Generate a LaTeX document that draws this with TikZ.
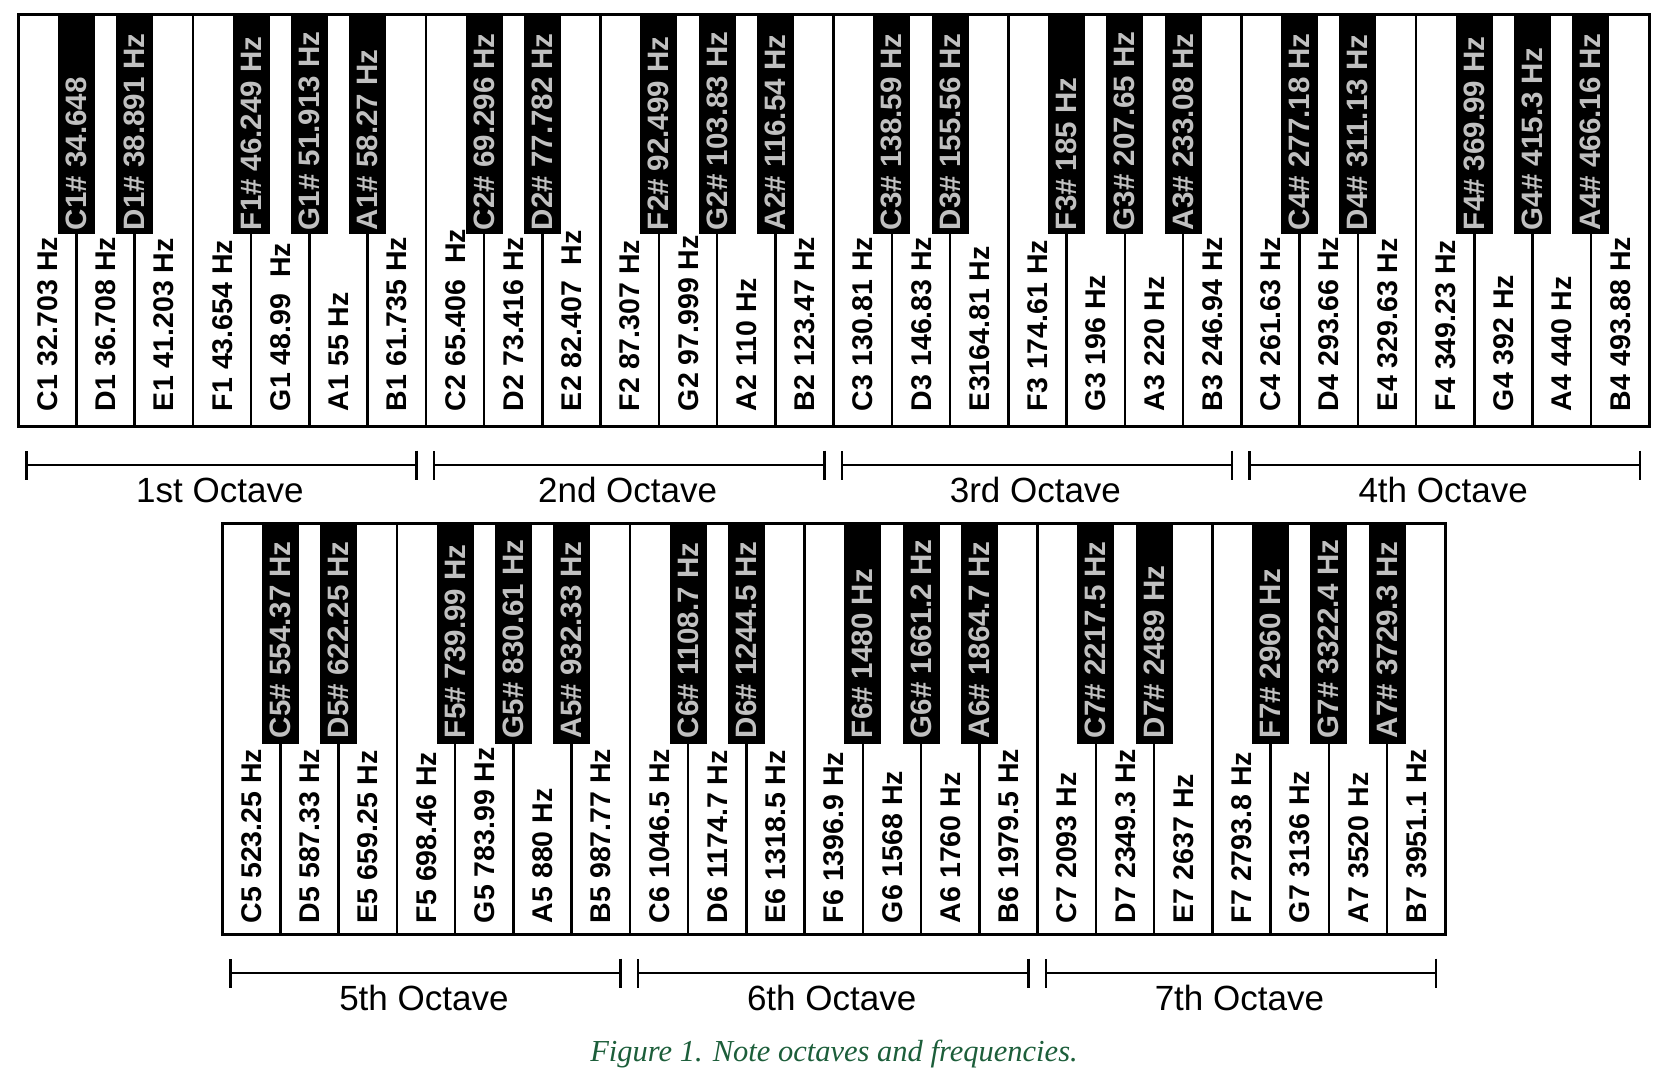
\documentclass[tikz,border=0pt]{standalone}
\usepackage{fontspec}
\setmainfont{Liberation Sans}
\newfontfamily\capfont{Liberation Serif}
\usetikzlibrary{arrows.meta}
\definecolor{capgreen}{RGB}{28,94,58}
\definecolor{sharplabel}{RGB}{192,192,192}
\tikzset{
  whitekey/.style={draw=black, fill=white, line width=2.5pt, minimum width=58.25pt, minimum height=412pt, inner sep=0pt, outer sep=0pt, anchor=north west},
  blackkey/.style={draw=black, fill=black, line width=1pt, minimum width=36pt, minimum height=219pt, inner sep=0pt, outer sep=0pt, anchor=north},
  kbframe/.style={draw=black, line width=3pt, inner sep=0pt, outer sep=0pt, anchor=north west},
  keylabel/.style={rotate=90, anchor=west, inner sep=0pt, outer sep=0pt, text height=20.4pt, text depth=0pt},
  wlabel/.style={keylabel, text=black, font=\fontsize{28.5}{30}\selectfont\bfseries},
  blabel/.style={keylabel, text=sharplabel, font=\fontsize{29.5}{31}\selectfont\bfseries},
  octbar/.style={line width=2.5pt, {Bar[width=29pt,line width=2.5pt]}-{Bar[width=29pt,line width=2.5pt]}},
  octlabel/.style={anchor=base, inner sep=0pt, font=\fontsize{35}{40}\selectfont},
}
\begin{document}
\begin{tikzpicture}[x=1pt, y=-1pt]
\useasboundingbox[fill=white] (0,0) rectangle (1676,1090);

% ---------- top keyboard ----------
\foreach \lab [count=\i from 0] in {
  C1 32.703 Hz, D1 36.708 Hz, E1 41.203 Hz, F1 43.654 Hz, G1 48.99\ \ Hz, A1 55 Hz, B1 61.735 Hz,
  C2 65.406\ \ Hz, D2 73.416 Hz, E2 82.407\ \ Hz, F2 87.307 Hz, G2 97.999 Hz, A2 110 Hz, B2 123.47 Hz,
  C3 130.81 Hz, D3 146.83 Hz, E3164.81 Hz, F3 174.61 Hz, G3 196 Hz, A3 220 Hz, B3 246.94 Hz,
  C4 261.63 Hz, D4 293.66 Hz, E4 329.63 Hz, F4 349.23 Hz, G4 392 Hz, A4 440 Hz, B4 493.88 Hz}{
  \node[whitekey] (tw\i) at ({18+58.25*\i},14) {};
  \node[wlabel] (twl\i) at ({18+58.25*(\i+0.5)},411) {\lab};
}
\foreach \b/\lab in {
  1/C1\# 34.648, 2/D1\# 38.891 Hz, 4/F1\# 46.249 Hz, 5/G1\# 51.913 Hz, 6/A1\# 58.27 Hz,
  8/C2\# 69.296 Hz, 9/D2\# 77.782 Hz, 11/F2\# 92.499 Hz, 12/G2\# 103.83 Hz, 13/A2\# 116.54 Hz,
  15/C3\# 138.59 Hz, 16/D3\# 155.56 Hz, 18/F3\# 185 Hz, 19/G3\# 207.65 Hz, 20/A3\# 233.08 Hz,
  22/C4\# 277.18 Hz, 23/D4\# 311.13 Hz, 25/F4\# 369.99 Hz, 26/G4\# 415.3 Hz, 27/A4\# 466.16 Hz}{
  \node[blackkey] (tb\b) at ({18+58.25*\b},14) {};
  \node[blabel] (tbl\b) at ({18+58.25*\b},230) {\lab};
}
\node[kbframe, minimum width=1631pt, minimum height=412pt] (topframe) at (18,14) {};

% ---------- bottom keyboard ----------
\foreach \lab [count=\i from 0] in {
  C5 523.25 Hz, D5 587.33 Hz, E5 659.25 Hz, F5 698.46 Hz, G5 783.99 Hz, A5 880 Hz, B5 987.77 Hz,
  C6 1046.5 Hz, D6 1174.7 Hz, E6 1318.5 Hz, F6 1396.9 Hz, G6 1568 Hz, A6 1760 Hz, B6 1979.5 Hz,
  C7 2093 Hz, D7 2349.3 Hz, E7 2637 Hz, F7 2793.8 Hz, G7 3136 Hz, A7 3520 Hz, B7 3951.1 Hz}{
  \node[whitekey, minimum height=411pt] (bw\i) at ({222+58.25*\i},523) {};
  \node[wlabel] (bwl\i) at ({222+58.25*(\i+0.5)},923) {\lab};
}
\foreach \b/\lab in {
  1/C5\# 554.37 Hz, 2/D5\# 622.25 Hz, 4/F5\# 739.99 Hz, 5/G5\# 830.61 Hz, 6/A5\# 932.33 Hz,
  8/C6\# 1108.7 Hz, 9/D6\# 1244.5 Hz, 11/F6\# 1480 Hz, 12/G6\# 1661.2 Hz, 13/A6\# 1864.7 Hz,
  15/C7\# 2217.5 Hz, 16/D7\# 2489 Hz, 18/F7\# 2960 Hz, 19/G7\# 3322.4 Hz, 20/A7\# 3729.3 Hz}{
  \node[blackkey, minimum height=220pt] (bb\b) at ({222+58.25*\b},523) {};
  \node[blabel] (bbl\b) at ({222+58.25*\b},738) {\lab};
}
\node[kbframe, minimum width=1223.25pt, minimum height=411pt] (botframe) at (222,523) {};

% ---------- octave brackets ----------
\foreach \k/\name in {0/1st, 1/2nd, 2/3rd, 3/4th}{
  \coordinate (ta\k) at ({18+407.75*\k+7},465);
  \coordinate (tz\k) at ({18+407.75*(\k+1)-8},465);
  \draw[octbar] (ta\k) -- (tz\k);
  \node[octlabel] (tol\k) at ({18+407.75*(\k+0.5)-2},502) {\name\ Octave};
}
\foreach \k/\name in {0/5th, 1/6th, 2/7th}{
  \coordinate (ba\k) at ({222+407.75*\k+7},973);
  \coordinate (bz\k) at ({222+407.75*(\k+1)-8},973);
  \draw[octbar] (ba\k) -- (bz\k);
  \node[octlabel] (bol\k) at ({222+407.75*(\k+0.5)-2},1010) {\name\ Octave};
}

% ---------- caption ----------
\node[anchor=base, inner sep=0pt, text=capgreen, font=\capfont\itshape\fontsize{30.5}{33}\selectfont] (caption) at (834,1061) {Figure 1. Note octaves and frequencies.};
\end{tikzpicture}
\end{document}
